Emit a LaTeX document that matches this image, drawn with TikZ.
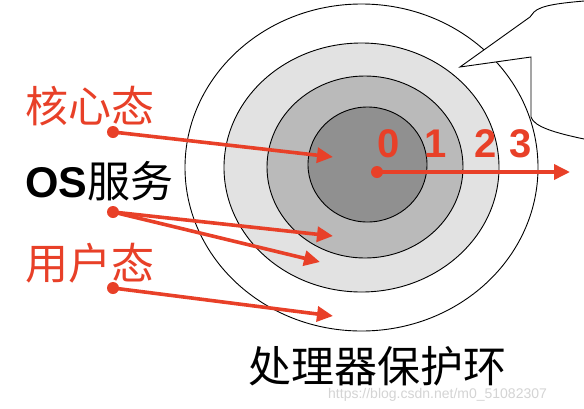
\documentclass[tikz,border=0pt]{standalone}
\usepackage{fontspec}
\setmainfont{Liberation Sans}
\newfontfamily\cjk{Noto Sans CJK SC}
\usetikzlibrary{arrows.meta}
\definecolor{redc}{RGB}{232,64,40}
\definecolor{ringlight}{RGB}{226,226,226}
\definecolor{ringmid}{RGB}{186,186,186}
\definecolor{ringdark}{RGB}{144,144,144}
\definecolor{wmgray}{RGB}{212,212,212}
\begin{document}
\begin{tikzpicture}[x=1pt,y=-1pt,
  ring/.style={draw=black,line width=0.9pt},
  redarrow/.style={draw=redc,line width=3.6pt,-{Triangle[length=16pt,width=15pt]}},
  reddot/.style={circle,fill=redc,inner sep=0pt,minimum size=12pt},
  lbl/.style={inner sep=0pt,anchor=base west,font=\cjk\fontsize{43}{50}\selectfont},
  digit/.style={inner sep=0pt,anchor=base,text=redc,font=\bfseries\fontsize{40}{48}\selectfont}]
\useasboundingbox (0,0) rectangle (584,408);
\fill[white] (0,0) rectangle (584,408);
% rings
\draw[ring,fill=white] (361.5,167.5) ellipse [x radius=176.5pt, y radius=163.5pt];
\draw[ring,fill=ringlight] (361.5,167.5) ellipse [x radius=137.5pt, y radius=124.5pt];
\draw[ring,fill=ringmid] (365,167) ellipse [x radius=98pt, y radius=91pt];
\draw[ring,fill=ringdark] (367.5,164.5) ellipse [x radius=59.5pt, y radius=57.5pt];
% callout
\draw[line width=0.9pt,fill=white,line join=miter] (584,1) .. controls (562,3) and (541,5) .. (534,12) -- (530,17) -- (460,67) -- (531,57) -- (531,117) .. controls (534,127) and (556,133) .. (584,139);
% digits
\node[digit] (d0) at (389,157) {0};
\node[digit] (d1) at (436,157) {1};
\node[digit] (d2) at (486,157) {2};
\node[digit] (d3) at (521,157) {3};
% center arrow
\node[reddot] (c) at (377,172) {};
\coordinate (ce) at (570,172);
\draw[redarrow] (c.center) -- (ce);
% labels
\node[lbl,text=redc] (k) at (25,122) {核心态};
\node[lbl] (os) at (25,197) {{\normalfont\bfseries\fontsize{43}{50}\selectfont OS}服务};
\node[lbl,text=redc] (u) at (25,279) {用户态};
\node[lbl,anchor=base] (t) at (377,382) {处理器保护环};
\node[inner sep=0pt,anchor=base west,text=wmgray,font=\fontsize{14}{16}\selectfont] (w) at (328,398) {https://blog.csdn.net/m0\_51082307};
% dots
\node[reddot] (dk) at (113,132) {};
\node[reddot] (dos) at (113,212) {};
\node[reddot] (du) at (113,288) {};
\coordinate (ak) at (333,157);
\coordinate (ao1) at (333,236);
\coordinate (ao2) at (320,262);
\coordinate (au) at (333,316);
\draw[redarrow] (dk.center) -- (ak);
\draw[redarrow] (dos.center) -- (ao1);
\draw[redarrow] (dos.center) -- (ao2);
\draw[redarrow] (du.center) -- (au);
\end{tikzpicture}
\end{document}
